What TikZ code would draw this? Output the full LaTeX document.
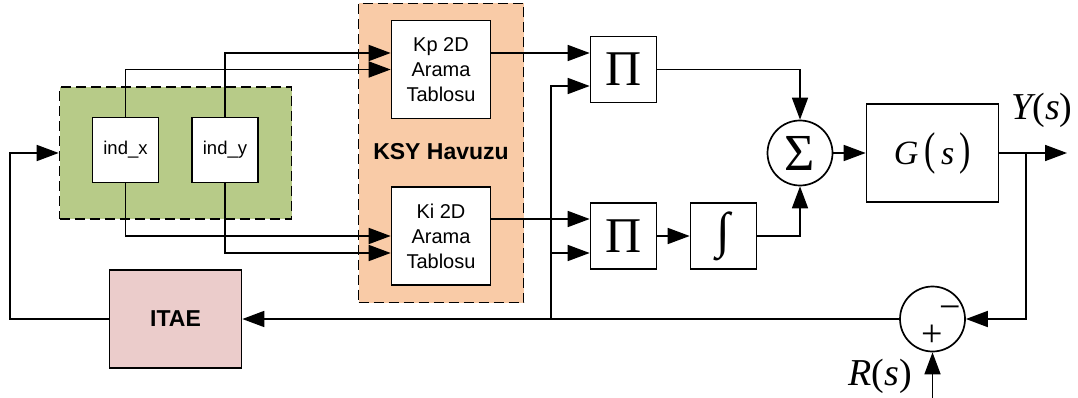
\documentclass[tikz,border=0pt]{standalone}
\usepackage[no-math]{fontspec}
\setmainfont{Liberation Sans}
\newfontfamily\tms{Liberation Serif}
\usetikzlibrary{arrows.meta,calc}

\begin{document}
\begin{tikzpicture}[x=1pt,y=-1pt,line width=1.7pt,
  >={Triangle[length=22pt,width=16pt]},
  blok/.style={draw,fill=white,inner sep=0pt,align=center},
  daire/.style={draw,circle,fill=white,inner sep=0pt,minimum size=65pt},
  grup/.style={draw,dash pattern=on 10pt off 5pt,inner sep=0pt},
  tablo/.style={blok,minimum width=99pt,minimum height=98pt,font=\fontsize{20}{25}\selectfont},
  carpim/.style={blok,minimum width=66pt,minimum height=66pt,font=\tms\fontsize{50}{50}\selectfont}]
  \definecolor{yesil}{RGB}{183,203,136}
  \definecolor{turuncu}{RGB}{249,203,167}
  \definecolor{pembe}{RGB}{235,204,203}
  \useasboundingbox (0,0) rectangle (1078,398);

  \node[grup,fill=yesil,minimum width=232pt,minimum height=132pt] (grp) at (175.5,153) {};
  \node[grup,fill=turuncu,minimum width=165pt,minimum height=299pt] (pool) at (441,153) {};

  \node[blok,minimum width=66pt,minimum height=65pt,font=\fontsize{18.5}{22}\selectfont] (indx) at (125.5,150) {ind\_x};
  \node[blok,minimum width=66pt,minimum height=65pt,font=\fontsize{18.5}{22}\selectfont] (indy) at (225,150) {ind\_y};

  \node[tablo] (kp) at (441,69.5) {Kp 2D\\Arama\\Tablosu};
  \node[tablo] (ki) at (441,236) {Ki 2D\\Arama\\Tablosu};
  \node[font=\bfseries\fontsize{23}{23}\selectfont] (poolname) at (441,152) {KSY Havuzu};

  \node[carpim] (pi1) at (623.5,69.5) {Π};
  \node[carpim] (pi2) at (623.5,236) {Π};
  \node[carpim,font=\tms\fontsize{50}{50}\selectfont] (int) at (723.5,236) {∫};
  \node[daire,font=\tms\fontsize{52}{52}\selectfont] (sum) at (800,153) {Σ};
  \node[blok,minimum width=132pt,minimum height=98pt,font=\tms\fontsize{34}{34}\selectfont] (plant) at (932.5,153)
    {\itshape G\upshape\,\scalebox{1}[1.35]{(}\,\itshape s\upshape\,\scalebox{1}[1.35]{)}};
  \node[daire] (err) at (932.5,319) {};
  \node[font=\tms\fontsize{38}{38}\selectfont] at (950,313) {−};
  \node[font=\tms\fontsize{38}{38}\selectfont] at (932.5,336) {+};
  \node[blok,fill=pembe,minimum width=132pt,minimum height=98pt,font=\bfseries\fontsize{23}{23}\selectfont] (itae) at (175.5,319) {ITAE};

  \node[font=\tms\fontsize{38}{38}\selectfont] (ylbl) at (1042,110) {\itshape Y\upshape(\itshape s\upshape)};
  \node[font=\tms\fontsize{38}{38}\selectfont] (rlbl) at (880,376) {\itshape R\upshape(\itshape s\upshape)};

  \coordinate (tap) at (551,319);
  \coordinate (dal) at (1026,153);
  \coordinate (cikis) at (1067,153);
  \coordinate (geri) at (10,319);
  \coordinate (giris) at (932.5,398);

  \draw[->] (indx.north) |- (kp.west);
  \draw[->] (indy.north) |- ($(kp.west)+(0,-16.5)$);
  \draw[->] (indx.south) |- (ki.west);
  \draw[->] (indy.south) |- ($(ki.west)+(0,17)$);
  \draw[->] ($(kp.east)+(0,-16.5)$) -- ($(pi1.west)+(0,-16.5)$);
  \draw[->] ($(ki.east)+(0,-17)$) -- ($(pi2.west)+(0,-17)$);
  \draw[->] (tap) |- ($(pi1.west)+(0,16.5)$);
  \draw[->] ($(tap |- pi2.west)+(0,17)$) -- ($(pi2.west)+(0,17)$);
  \draw[->] (pi2) -- (int);
  \draw[->] (int.east) -| (sum.south);
  \draw[->] (pi1.east) -| (sum.north);
  \draw[->] (sum) -- (plant);
  \draw[->] (plant.east) -- (cikis);
  \draw[->] (dal) |- (err.east);
  \draw[->] (err.west) -- (itae.east);
  \draw[->] (itae.west) -- (geri) |- (grp.west);
  \draw[->] (giris) -- (err.south);

\end{tikzpicture}
\end{document}
